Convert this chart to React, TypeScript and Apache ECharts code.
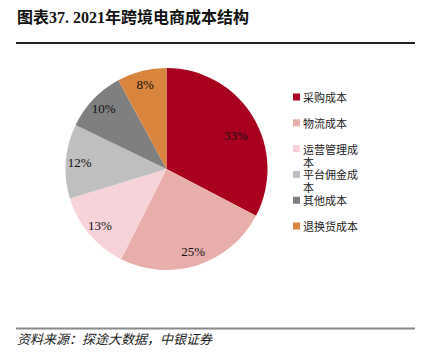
import React, { useEffect, useRef } from "react";
import * as echarts from "echarts";

const categories = ["采购成本", "物流成本", "运营管理成本", "平台佣金成本", "其他成本", "退换货成本"];
const values = [33, 25, 13, 12, 10, 8];
const colors = ["#A8001E", "#E8AEAC", "#F6D3D9", "#BFBFBF", "#7F7F7F", "#D9853E"];
const titleText = "图表37. 2021年跨境电商成本结构";
const sourceText = "资料来源：探途大数据，中银证券";

export default function App() {
  const ref = useRef<HTMLDivElement>(null);
  useEffect(() => {
    document.body.style.margin = "0";
    const chart = echarts.init(ref.current!, null, { renderer: "svg" });
    const cx = 166.5;
    const cy = 169;
    const R = 101;
    const legendX = 293;
    const legendY0 = 97;
    const legendStep = 25.8;
    const legendGraphics: any[] = [];
    categories.forEach((name, i) => {
      const y = legendY0 + i * legendStep;
      legendGraphics.push({
        type: "rect",
        shape: { x: legendX, y: y - 3.5, width: 7, height: 7 },
        style: { fill: colors[i] },
      });
      const txt = name.length > 5 ? name.slice(0, 5) + "\n" + name.slice(5) : name;
      legendGraphics.push({
        type: "text",
        x: legendX + 10,
        y: y - 6.5,
        style: {
          text: txt,
          fill: "#222",
          font: "11px 'Noto Sans CJK SC'",
          lineHeight: 13,
          verticalAlign: "top",
          align: "left",
        },
      });
    });
    const pieData = categories.map((name, i) => ({ name, value: values[i], itemStyle: { color: colors[i] } }));
    chart.setOption({
      animation: false,
      graphic: [
        {
          type: "text",
          x: 17,
          y: 17,
          style: {
            text: titleText,
            fill: "#111",
            font: "bold 16px 'Liberation Serif', 'Noto Sans CJK SC'",
            verticalAlign: "middle",
          },
        },
        { type: "line", shape: { x1: 16, y1: 43, x2: 415, y2: 43 }, style: { stroke: "#222", lineWidth: 2 } },
        { type: "line", shape: { x1: 16, y1: 328.5, x2: 415, y2: 328.5 }, style: { stroke: "#888", lineWidth: 2 } },
        {
          type: "text",
          x: 17,
          y: 338,
          style: {
            text: sourceText,
            fill: "#222",
            font: "italic 13px 'Noto Sans CJK SC'",
            verticalAlign: "middle",
          },
        },
        ...legendGraphics,
      ],
      series: [
        {
          type: "pie",
          center: [cx, cy],
          radius: [0, R],
          startAngle: 90,
          clockwise: true,
          label: { show: false },
          labelLine: { show: false },
          silent: true,
          data: pieData,
        },
        {
          type: "pie",
          center: [cx, cy],
          radius: [67, R],
          startAngle: 90,
          clockwise: true,
          silent: true,
          itemStyle: { color: "rgba(0,0,0,0)" },
          label: {
            show: true,
            position: "inside",
            formatter: "{c}%",
            color: "#111",
            fontFamily: "'Liberation Serif', serif",
            fontSize: 13,
          },
          labelLine: { show: false },
          data: categories.map((name, i) => ({
            name,
            value: values[i],
            label: i === 0 ? { offset: [-5, 12] } : undefined,
          })),
        },
      ],
    });
    return () => chart.dispose();
  }, []);
  return <div ref={ref} style={{ width: 422, height: 362 }} />;
}
